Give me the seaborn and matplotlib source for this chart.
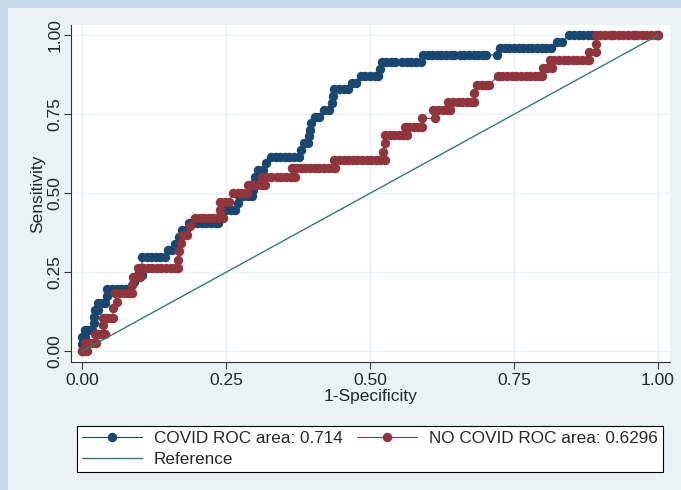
import numpy as np
import pandas as pd
import matplotlib.pyplot as plt
from matplotlib.patches import Rectangle
import seaborn as sns

# ROC points (1-specificity, sensitivity)
covid_x = [0.000, 0.000, 0.000, 0.005, 0.006, 0.012, 0.017, 0.020, 0.020, 0.022, 0.028, 0.028,
           0.034, 0.040, 0.044, 0.044, 0.052, 0.060, 0.068, 0.076, 0.084, 0.090, 0.098, 0.104,
           0.104, 0.104, 0.112, 0.120, 0.128, 0.136, 0.144, 0.150, 0.157, 0.162, 0.168, 0.174,
           0.180, 0.186, 0.192, 0.200, 0.208, 0.216, 0.224, 0.232, 0.236, 0.240, 0.242, 0.250,
           0.258, 0.266, 0.270, 0.272, 0.280, 0.288, 0.295, 0.296, 0.298, 0.300, 0.306, 0.314,
           0.320, 0.328, 0.336, 0.344, 0.352, 0.360, 0.368, 0.376, 0.380, 0.386, 0.392, 0.394,
           0.396, 0.398, 0.404, 0.412, 0.420, 0.428, 0.434, 0.436, 0.438, 0.446, 0.454, 0.462,
           0.468, 0.476, 0.484, 0.492, 0.500, 0.508, 0.514, 0.518, 0.520, 0.528, 0.536, 0.543,
           0.556, 0.564, 0.572, 0.580, 0.588, 0.592, 0.600, 0.608, 0.616, 0.624, 0.632, 0.640,
           0.645, 0.656, 0.664, 0.672, 0.680, 0.688, 0.696, 0.702, 0.720, 0.726, 0.734, 0.742,
           0.750, 0.758, 0.766, 0.774, 0.782, 0.790, 0.798, 0.806, 0.814, 0.824, 0.834, 0.846,
           0.854, 0.862, 0.870, 0.878, 0.886, 0.920, 0.960, 1.000]
covid_y = [0.000, 0.022, 0.044, 0.044, 0.066, 0.066, 0.066, 0.088, 0.110, 0.132, 0.132, 0.154,
           0.154, 0.154, 0.176, 0.198, 0.198, 0.198, 0.198, 0.198, 0.198, 0.220, 0.242, 0.242,
           0.264, 0.297, 0.297, 0.297, 0.297, 0.297, 0.297, 0.319, 0.319, 0.341, 0.362, 0.384,
           0.384, 0.405, 0.405, 0.405, 0.405, 0.405, 0.405, 0.405, 0.405, 0.427, 0.447, 0.447,
           0.447, 0.447, 0.469, 0.490, 0.490, 0.490, 0.490, 0.511, 0.532, 0.553, 0.574, 0.574,
           0.595, 0.616, 0.616, 0.616, 0.616, 0.616, 0.616, 0.616, 0.637, 0.658, 0.658, 0.680,
           0.701, 0.722, 0.743, 0.743, 0.764, 0.764, 0.786, 0.807, 0.829, 0.829, 0.829, 0.829,
           0.850, 0.850, 0.872, 0.872, 0.872, 0.872, 0.872, 0.894, 0.915, 0.915, 0.915, 0.915,
           0.915, 0.915, 0.915, 0.915, 0.915, 0.938, 0.938, 0.938, 0.938, 0.938, 0.938, 0.938,
           0.938, 0.938, 0.938, 0.938, 0.938, 0.938, 0.938, 0.938, 0.938, 0.959, 0.959, 0.959,
           0.959, 0.959, 0.959, 0.959, 0.959, 0.959, 0.959, 0.959, 0.959, 0.980, 0.980, 1.000,
           1.000, 1.000, 1.000, 1.000, 1.000, 1.000, 1.000, 1.000]

nocovid_x = [0.000, 0.004, 0.008, 0.006, 0.012, 0.018, 0.024, 0.022, 0.028, 0.034, 0.040, 0.036,
             0.036, 0.042, 0.048, 0.054, 0.054, 0.060, 0.058, 0.066, 0.074, 0.082, 0.086, 0.086,
             0.088, 0.094, 0.100, 0.098, 0.106, 0.114, 0.122, 0.130, 0.138, 0.146, 0.154, 0.162,
             0.167, 0.166, 0.168, 0.172, 0.176, 0.182, 0.188, 0.196, 0.204, 0.212, 0.220, 0.228,
             0.236, 0.244, 0.240, 0.240, 0.248, 0.256, 0.262, 0.270, 0.278, 0.286, 0.288, 0.296,
             0.304, 0.312, 0.318, 0.312, 0.320, 0.328, 0.338, 0.346, 0.354, 0.362, 0.370, 0.364,
             0.372, 0.380, 0.388, 0.396, 0.404, 0.412, 0.420, 0.428, 0.436, 0.440, 0.438, 0.446,
             0.454, 0.462, 0.470, 0.478, 0.486, 0.494, 0.502, 0.510, 0.518, 0.526, 0.523, 0.526,
             0.526, 0.534, 0.542, 0.550, 0.558, 0.564, 0.560, 0.568, 0.576, 0.584, 0.590, 0.590,
             0.613, 0.610, 0.618, 0.626, 0.634, 0.639, 0.636, 0.644, 0.652, 0.660, 0.668, 0.676,
             0.680, 0.680, 0.686, 0.694, 0.702, 0.706, 0.722, 0.730, 0.738, 0.746, 0.754, 0.762,
             0.770, 0.778, 0.786, 0.794, 0.798, 0.800, 0.808, 0.816, 0.812, 0.820, 0.828, 0.836,
             0.844, 0.852, 0.860, 0.868, 0.876, 0.880, 0.880, 0.893, 0.893, 0.893, 0.900, 0.908,
             0.916, 0.924, 0.932, 0.940, 0.948, 0.956, 0.964, 0.972, 0.980, 0.988, 0.996, 1.000]
nocovid_y = [0.000, 0.000, 0.000, 0.027, 0.027, 0.027, 0.027, 0.055, 0.055, 0.055, 0.055, 0.083,
             0.106, 0.106, 0.106, 0.106, 0.136, 0.157, 0.183, 0.183, 0.183, 0.183, 0.183, 0.210,
             0.236, 0.236, 0.236, 0.263, 0.263, 0.263, 0.263, 0.263, 0.263, 0.263, 0.263, 0.263,
             0.263, 0.290, 0.316, 0.342, 0.368, 0.368, 0.395, 0.421, 0.421, 0.421, 0.421, 0.421,
             0.421, 0.421, 0.447, 0.474, 0.474, 0.474, 0.500, 0.500, 0.500, 0.500, 0.526, 0.526,
             0.526, 0.526, 0.526, 0.553, 0.553, 0.553, 0.553, 0.553, 0.553, 0.553, 0.553, 0.579,
             0.579, 0.579, 0.579, 0.579, 0.579, 0.579, 0.579, 0.579, 0.579, 0.579, 0.605, 0.605,
             0.605, 0.605, 0.605, 0.605, 0.605, 0.605, 0.605, 0.605, 0.605, 0.605, 0.632, 0.658,
             0.685, 0.685, 0.685, 0.685, 0.685, 0.685, 0.711, 0.711, 0.711, 0.711, 0.711, 0.737,
             0.737, 0.764, 0.764, 0.764, 0.764, 0.764, 0.790, 0.790, 0.790, 0.790, 0.790, 0.790,
             0.790, 0.816, 0.843, 0.843, 0.843, 0.843, 0.870, 0.870, 0.870, 0.870, 0.870, 0.870,
             0.870, 0.870, 0.870, 0.870, 0.870, 0.896, 0.896, 0.896, 0.922, 0.922, 0.922, 0.922,
             0.922, 0.922, 0.922, 0.922, 0.922, 0.922, 0.948, 0.948, 0.974, 1.000, 1.000, 1.000,
             1.000, 1.000, 1.000, 1.000, 1.000, 1.000, 1.000, 1.000, 1.000, 1.000, 1.000, 1.000]

ref_x = [0.0, 1.0]
ref_y = [0.0, 1.0]

labels = ["COVID ROC area: 0.714", "NO COVID ROC area: 0.6296", "Reference"]
ticks = [0.0, 0.25, 0.5, 0.75, 1.0]
tick_labels = ["0.00", "0.25", "0.50", "0.75", "1.00"]

c_blue = "#1a476f"
c_red = "#90353b"
c_ref = "#337d6e"
bg = "#eaf2f3"

sns.set_style("white")
plt.rcParams['font.family'] = ['Liberation Sans', 'DejaVu Sans']
plt.rcParams['font.size'] = 12.5

fig = plt.figure(figsize=(6.81, 4.90), dpi=100, facecolor=bg)
# outer blue strips (top and left)
fig.patches.append(Rectangle((0, 1 - 8 / 490), 1, 8 / 490, transform=fig.transFigure,
                             facecolor="#c8d9ea", edgecolor="none", zorder=0))
fig.patches.append(Rectangle((0, 0), 8 / 681, 1, transform=fig.transFigure,
                             facecolor="#c8d9ea", edgecolor="none", zorder=0))

ax = fig.add_axes([71 / 681, 1 - 362 / 490, (670 - 71) / 681, (362 - 25) / 490])
ax.set_facecolor("white")

sns.lineplot(x=covid_x, y=covid_y, sort=False, estimator=None, errorbar=None, ax=ax,
             color=c_blue, lw=0.8, marker='o', markersize=6.8, markeredgewidth=0,
             label=labels[0])
sns.lineplot(x=nocovid_x, y=nocovid_y, sort=False, estimator=None, errorbar=None, ax=ax,
             color=c_red, lw=0.8, marker='o', markersize=6.8, markeredgewidth=0,
             label=labels[1])
sns.lineplot(x=ref_x, y=ref_y, sort=False, estimator=None, errorbar=None, ax=ax,
             color=c_ref, lw=1.0, label=labels[2])

ax.set_xlim(-0.0191, 1.0208)
ax.set_ylim(-0.0339, 1.0326)
ax.set_xticks(ticks)
ax.set_xticklabels(tick_labels)
ax.set_yticks(ticks)
ax.set_yticklabels(tick_labels, rotation=90, va='center')
ax.grid(True, color=bg, lw=1.0)
ax.set_axisbelow(True)
for s in ['top', 'right']:
    ax.spines[s].set_visible(False)
for s in ['left', 'bottom']:
    ax.spines[s].set_color("#333333")
    ax.spines[s].set_linewidth(0.8)
ax.tick_params(axis='both', direction='out', length=5, width=0.8, color="#333333",
               left=True, bottom=True, labelsize=12.5)
ax.tick_params(axis='y', pad=1)
ax.tick_params(axis='x', pad=3)
ax.set_xlabel("1-Specificity", fontsize=12.5, labelpad=1)
ax.set_ylabel("Sensitivity", fontsize=12.5, labelpad=2)

handles, labs = ax.get_legend_handles_labels()
ax.get_legend().remove()
order = [0, 2, 1]
leg = fig.legend([handles[i] for i in order], [labs[i] for i in order],
                 loc='lower left', ncol=2, mode='expand',
                 bbox_to_anchor=(77 / 681, 1 - 472 / 490, (663 - 77) / 681, (472 - 417) / 490),
                 frameon=True, fancybox=False, edgecolor="black", facecolor="white",
                 framealpha=1, fontsize=12.3, handlelength=3.5, handletextpad=0.7,
                 labelspacing=0.35, borderpad=0.3, borderaxespad=0)
leg.get_frame().set_linewidth(0.8)

fig.savefig("out.png", dpi=100, facecolor=fig.get_facecolor())
